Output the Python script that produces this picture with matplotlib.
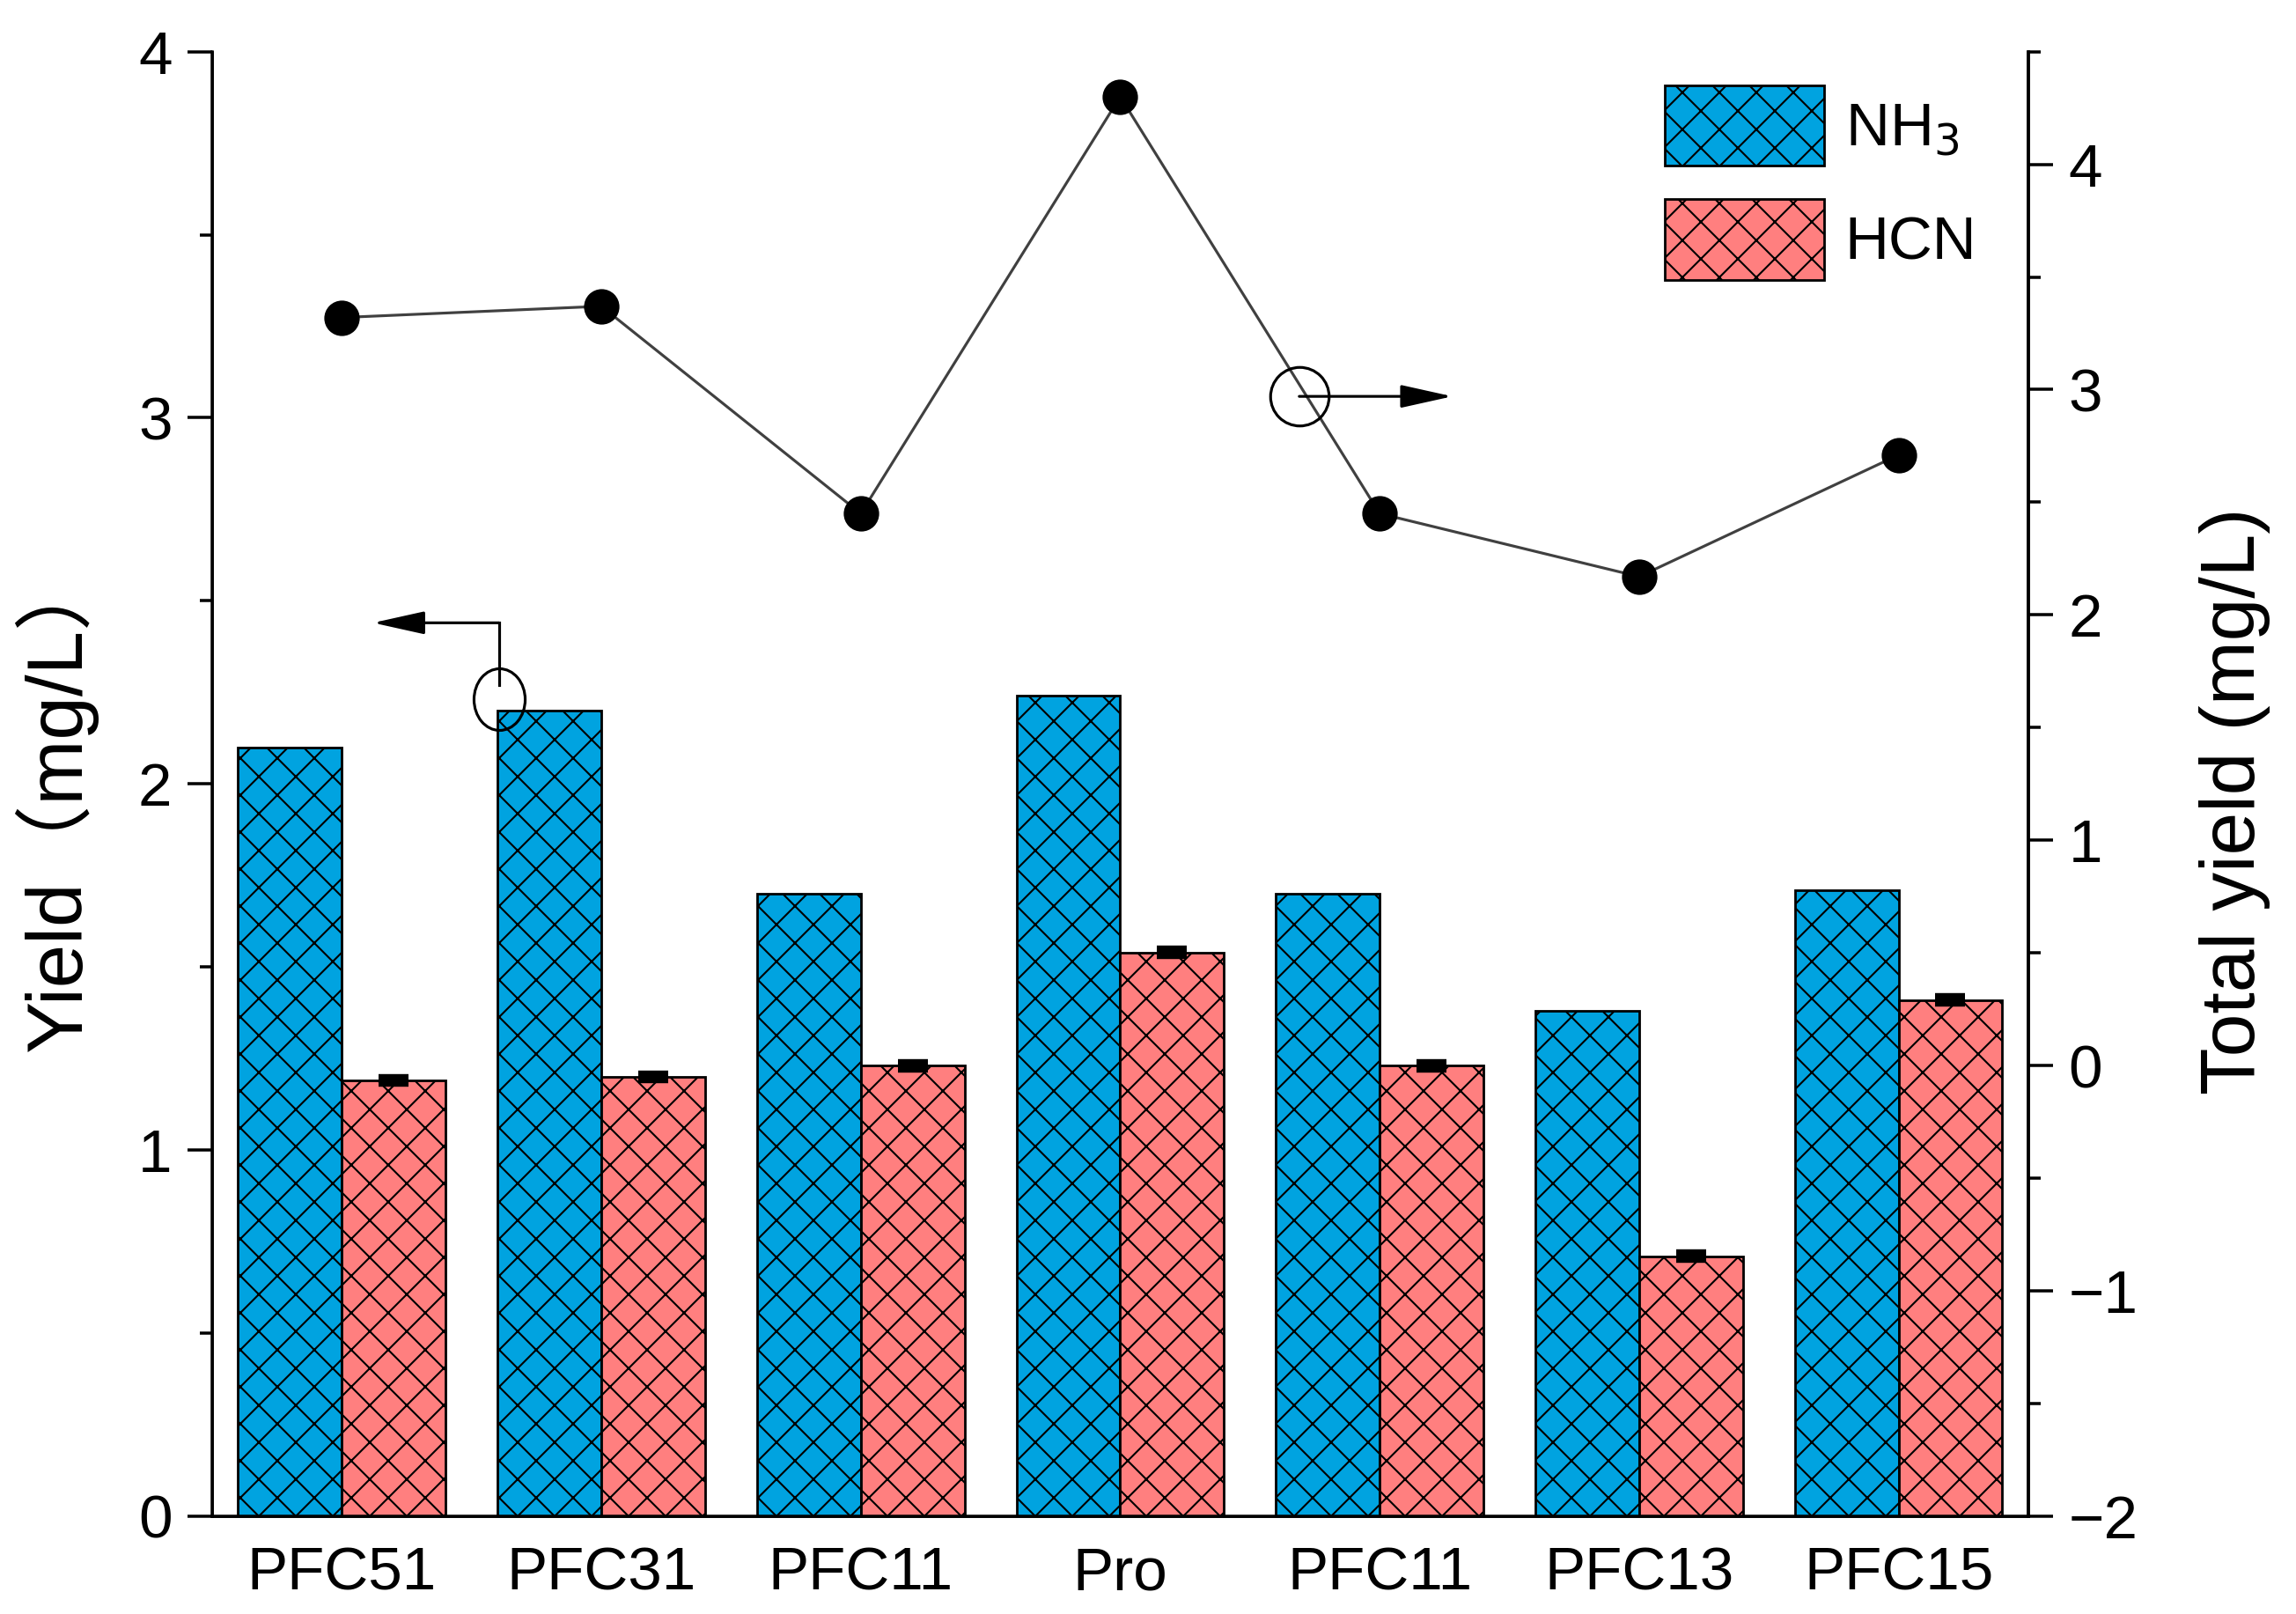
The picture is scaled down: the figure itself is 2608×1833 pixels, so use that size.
import numpy as np
import matplotlib
matplotlib.use("Agg")
import matplotlib.pyplot as plt
from matplotlib.ticker import MultipleLocator
from matplotlib.path import Path
from matplotlib.transforms import Affine2D

plt.rcParams["font.family"] = ["Liberation Sans", "Noto Sans CJK SC", "DejaVu Sans"]
plt.rcParams["hatch.color"] = "black"
plt.rcParams["hatch.linewidth"] = 0.6

# data
categories = ["PFC51", "PFC31", "PFC11", "Pro", "PFC11", "PFC13", "PFC15"]
nh3 = [2.10, 2.20, 1.70, 2.24, 1.70, 1.38, 1.71]
hcn = [1.19, 1.20, 1.23, 1.54, 1.23, 0.71, 1.41]
hcn_err = [0.008, 0.008, 0.008, 0.008, 0.008, 0.008, 0.008]
total = [3.32, 3.37, 2.45, 4.30, 2.45, 2.17, 2.71]

x = np.arange(len(categories))
w = 0.4

DPI = 252
fig = plt.figure(figsize=(2608 / DPI, 1833 / DPI), dpi=DPI)
ax = fig.add_axes([0.0924, 0.0606, 0.791, 0.9074])

ax.bar(x - w / 2, nh3, w, color="#00A3E0", edgecolor="black", linewidth=0.8,
       hatch="xx", label="NH$_3$")
ax.bar(x + w / 2, hcn, w, color="#FF7F7F", edgecolor="black", linewidth=0.8,
       hatch="xx", label="HCN")
ax.errorbar(x + w / 2, hcn, yerr=hcn_err, fmt="none", ecolor="black",
            elinewidth=2.4, capsize=4.8, capthick=2.4, zorder=5)

ax.set_xlim(-0.5, len(categories) - 0.5)
ax.set_ylim(0, 4)
ax.set_xticks(x)
ax.set_xticklabels(categories)
ax.yaxis.set_major_locator(MultipleLocator(1))
ax.yaxis.set_minor_locator(MultipleLocator(0.5))
ax.tick_params(axis="x", length=0, labelsize=19.8, pad=9.5)
ax.tick_params(axis="y", which="major", length=8, width=1.0, labelsize=19.8, pad=5)
ax.tick_params(axis="y", which="minor", length=4, width=1.0)
ax.spines["top"].set_visible(False)
for s in ["left", "bottom", "right"]:
    ax.spines[s].set_linewidth(1.0)
ax.set_ylabel("Yield（mg/L）", fontsize=25.4, labelpad=13)
ax.yaxis.label.set_y(0.488)

leg = ax.legend(loc="upper left", bbox_to_anchor=(0.80, 0.977), frameon=False,
                fontsize=19.8, handlelength=2.6, handleheight=1.65,
                handletextpad=0.35, labelspacing=0.55, borderpad=0,
                borderaxespad=0)

# slightly tall ellipse marker for the left annotation circle
ellipse = Path.unit_circle().transformed(Affine2D().scale(0.83, 1.0))

# left annotation (points to the left axis)
ax.plot([0.605], [2.232], marker=ellipse, ms=20, mfc="none", mec="black",
        mew=0.9, zorder=6)
ax.plot([0.605, 0.605], [2.27, 2.44], color="black", lw=0.9, zorder=6)
ax.annotate("", xy=(0.12, 2.44), xytext=(0.605, 2.44),
            arrowprops=dict(arrowstyle="-|>,head_length=0.9,head_width=0.2",
                            color="black", lw=0.9, mutation_scale=16,
                            shrinkA=0, shrinkB=0), zorder=6)

ax2 = ax.twinx()
ax2.set_ylim(-2, 4.5)
ax2.yaxis.set_major_locator(MultipleLocator(1))
ax2.yaxis.set_minor_locator(MultipleLocator(0.5))
ax2.tick_params(axis="y", which="major", length=8, width=1.0, labelsize=19.8, pad=5)
ax2.tick_params(axis="y", which="minor", length=4, width=1.0)
ax2.spines["top"].set_visible(False)
ax2.spines["right"].set_linewidth(1.0)
ax2.plot(x, total, color="#404040", lw=0.9, marker="o", ms=10.5,
         mfc="black", mec="black", zorder=4)
ax2.set_ylabel("Total yield (mg/L)", fontsize=25, labelpad=20)
ax2.yaxis.label.set_y(0.488)

# right annotation (points to the right axis)
ax2.plot([3.69], [2.97], marker="o", ms=19, mfc="none", mec="black", mew=0.9,
         zorder=6)
ax2.annotate("", xy=(4.28, 2.97), xytext=(3.69, 2.97),
             arrowprops=dict(arrowstyle="-|>,head_length=0.9,head_width=0.2",
                             color="black", lw=0.9, mutation_scale=16,
                             shrinkA=0, shrinkB=0), zorder=6)

fig.savefig("out.png", dpi=DPI)
